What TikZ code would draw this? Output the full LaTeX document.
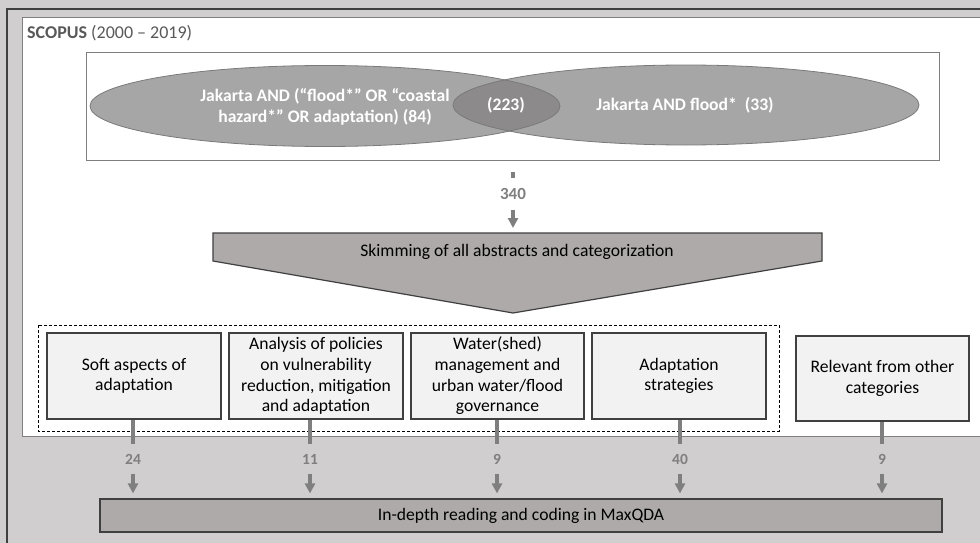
\documentclass[tikz,border=0pt]{standalone}
\usepackage{fontspec}
\setmainfont{Carlito}
\usetikzlibrary{arrows.meta}
\definecolor{bgc}{HTML}{D0CECE}
\definecolor{ellc}{HTML}{A6A6A6}
\definecolor{ovlc}{HTML}{8C8A8A}
\definecolor{ellline}{HTML}{7A7A7A}
\definecolor{warmc}{HTML}{AEAAAA}
\definecolor{boxc}{HTML}{F2F2F2}
\definecolor{darkline}{HTML}{404040}
\definecolor{arrc}{HTML}{7F7F7F}
\definecolor{titlec}{HTML}{595959}
\tikzset{
  catbox/.style={draw=darkline, line width=1.3pt, fill=boxc, minimum width=174pt, minimum height=86pt, align=center, inner sep=2pt, font=\fontsize{17.6}{20.7}\selectfont, text=black},
  conn/.style={draw=arrc, line width=3.2pt},
  arr/.style={draw=arrc, line width=3.2pt, -{Triangle[width=10pt,length=10pt]}, shorten >=5pt},
  numlab/.style={text=arrc, font=\bfseries\fontsize{15.5}{17}\selectfont, inner sep=0pt, minimum height=29pt},
  elltext/.style={text=white, font=\bfseries\fontsize{17.6}{21.7}\selectfont, align=center}
}
\begin{document}
\begin{tikzpicture}[x=1pt,y=-1pt]
\useasboundingbox (0,0) rectangle (980,543);
\fill[bgc] (0,0) rectangle (980,543);
\draw[darkline, line width=1.5pt] (7,543) -- (7,9) -- (980,9);
\filldraw[fill=white, draw=arrc, line width=1pt] (980,18) -- (22,18) -- (22,436) -- (980,436);
\node[anchor=west, text=titlec, font=\fontsize{18}{20}\selectfont, inner sep=0pt] (title) at (27,33) {\textbf{SCOPUS} (2000 -- 2019)};
% query box
\node[draw=arrc, line width=1pt, fill=white, minimum width=853pt, minimum height=107pt, inner sep=0pt] (qbox) at (512.5,106.5) {};
% ellipses
\fill[ellc] (325,106) ellipse [x radius=235, y radius=40.5];
\fill[ellc] (686,105) ellipse [x radius=233, y radius=40];
\begin{scope}
  \clip (325,106) ellipse [x radius=235, y radius=40.5];
  \fill[ovlc] (686,105) ellipse [x radius=233, y radius=40];
\end{scope}
\draw[ellline, line width=0.8pt] (325,106) ellipse [x radius=235, y radius=40.5];
\draw[ellline, line width=0.8pt] (686,105) ellipse [x radius=233, y radius=40];
\node[elltext] (eleft) at (325,107) {Jakarta AND (“flood*” OR “coastal\\hazard*” OR adaptation) (84)};
\node[elltext] (eover) at (506,105) {(223)};
\node[elltext] (eright) at (685,105) {Jakarta AND flood*~ (33)};
% pentagon
\filldraw[fill=warmc, draw=darkline, line width=1.2pt] (213,233) -- (822,233) -- (822,261) -- (513,313) -- (213,261) -- cycle;
\node[font=\fontsize{17.6}{20}\selectfont, text=black] (skim) at (517,252) {Skimming of all abstracts and categorization};
% 340
\coordinate (d0) at (513,172);
\node[numlab, font=\bfseries\fontsize{17}{19}\selectfont, minimum height=32pt] (l340) at (513,194) {340};
\coordinate (ptop) at (513,233);
\draw[conn] (d0) -- (l340.north);
\draw[arr] (l340.south) -- (ptop);
% dashed group
\draw[black, line width=0.9pt, dash pattern=on 3pt off 2pt] (38,325) rectangle (779,431);
% category boxes
\node[catbox] (b1) at (134,376) {Soft aspects of\\adaptation};
\node[catbox] (b2) at (316,376) {Analysis of policies\\on vulnerability\\reduction, mitigation\\and adaptation};
\node[catbox, minimum width=173pt] (b3) at (497.5,376) {Water(shed)\\management and\\urban water/flood\\governance};
\node[catbox] (b4) at (679,376) {Adaptation\\strategies};
\node[catbox, minimum width=173pt, minimum height=85pt] (b5) at (882.5,378.5) {Relevant from other\\categories};
% bottom box
\node[draw=darkline, line width=1.2pt, fill=warmc, minimum width=842pt, minimum height=33pt, inner sep=0pt, font=\fontsize{17.6}{20}\selectfont, text=black] (bot) at (521,515.5) {In-depth reading and coding in MaxQDA};
% numbers
\node[numlab] (n1) at (133,459) {24};
\node[numlab] (n2) at (310,459) {11};
\node[numlab] (n3) at (497,459) {9};
\node[numlab] (n4) at (680,459) {40};
\node[numlab] (n5) at (882,459) {9};
\foreach \b/\n in {b1/n1,b2/n2,b3/n3,b4/n4,b5/n5}{
  \draw[conn] (\b.south -| \n.north) -- (\n.north);
  \draw[arr] (\n.south) -- (\n.south |- bot.north);
}
\end{tikzpicture}
\end{document}
